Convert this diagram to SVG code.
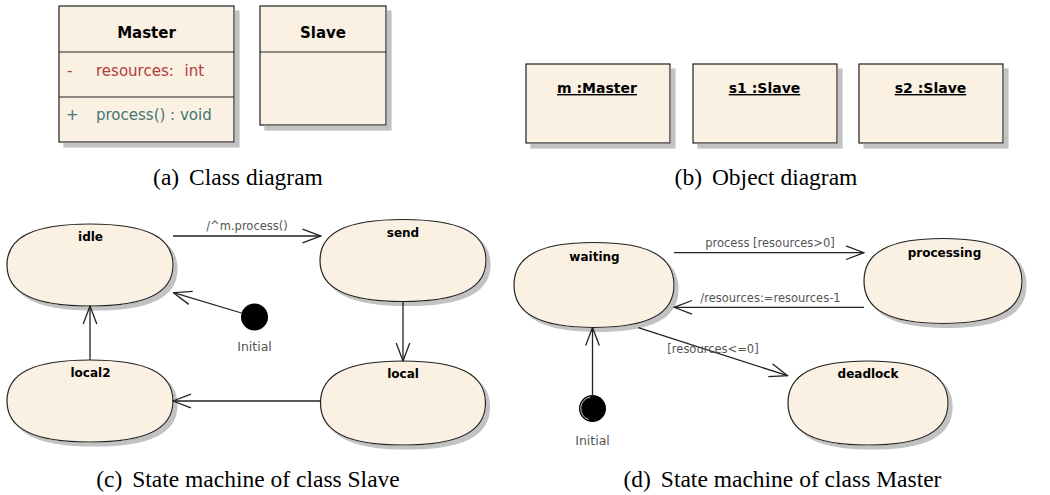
<svg xmlns="http://www.w3.org/2000/svg" width="1050" height="495" viewBox="0 0 1050 495">
<style>
.box{fill:#fbf1e3;stroke:#222;stroke-width:1.2}
.state{fill:#fbf1e3;stroke:#222;stroke-width:1.2}
.div{stroke:#222;stroke-width:1.2}
.cls{font-family:"DejaVu Sans",sans-serif;font-weight:bold;font-size:15px;text-anchor:middle;fill:#000}
.obj{font-family:"DejaVu Sans",sans-serif;font-weight:bold;font-size:14px;text-anchor:middle;fill:#000;text-decoration:underline}
.attr{font-family:"DejaVu Sans",sans-serif;font-size:15px;fill:#b03c3c}
.op{font-family:"DejaVu Sans",sans-serif;font-size:15px;fill:#437676}
.sname{font-family:"DejaVu Sans",sans-serif;font-weight:bold;font-size:12px;text-anchor:middle;fill:#000}
.lbl{font-family:"DejaVu Sans",sans-serif;font-size:11.5px;fill:#555}
.init{font-family:"DejaVu Sans",sans-serif;font-size:12.5px;text-anchor:middle;fill:#555}
.cap{font-family:"Liberation Serif","Times New Roman",serif;font-size:23.5px;text-anchor:middle;fill:#000}
.edge{fill:none;stroke:#222;stroke-width:1.3}
</style>
<defs>
<filter id="sh5" x="-10%" y="-10%" width="130%" height="130%">
<feOffset in="SourceAlpha" dx="5" dy="5" result="o"/>
<feFlood flood-color="#c2c2c2"/>
<feComposite in2="o" operator="in" result="s"/>
<feMerge><feMergeNode in="s"/><feMergeNode in="SourceGraphic"/></feMerge>
</filter>
<filter id="sh4" x="-10%" y="-10%" width="130%" height="130%">
<feOffset in="SourceAlpha" dx="4" dy="4" result="o"/>
<feFlood flood-color="#c2c2c2"/>
<feComposite in2="o" operator="in" result="s"/>
<feMerge><feMergeNode in="s"/><feMergeNode in="SourceGraphic"/></feMerge>
</filter>
<marker id="arr" viewBox="0 0 20 16" refX="19" refY="8" markerWidth="20" markerHeight="16" markerUnits="userSpaceOnUse" orient="auto">
<path d="M1,1.2 L19,8 L1,14.8" fill="none" stroke="#222" stroke-width="1.3"/>
</marker>
</defs>

<!-- (a) Class diagram -->
<g id="class-Master">
<rect class="box" x="59" y="6" width="175" height="136" filter="url(#sh5)"/>
<line class="div" x1="59" y1="52" x2="234" y2="52"/>
<line class="div" x1="59" y1="97" x2="234" y2="97"/>
<text class="cls" x="146.5" y="38">Master</text>
<text class="attr" x="67" y="76">-</text>
<text class="attr" x="96" y="76">resources:<tspan x="184.5">int</tspan></text>
<text class="op" x="66" y="120">+</text>
<text class="op" x="96" y="120">process() : void</text>
</g>
<g id="class-Slave">
<rect class="box" x="260" y="6" width="126" height="119" filter="url(#sh5)"/>
<line class="div" x1="260" y1="52" x2="386" y2="52"/>
<text class="cls" x="323" y="38">Slave</text>
</g>
<text class="cap" x="238" y="185">(a)<tspan dx="4"> Class diagram</tspan></text>

<!-- (b) Object diagram -->
<g id="obj-m">
<rect class="box" x="526" y="64" width="144" height="79" filter="url(#sh5)"/>
<text class="obj" x="597" y="93">m :Master</text>
</g>
<g id="obj-s1">
<rect class="box" x="693" y="64" width="144" height="79" filter="url(#sh5)"/>
<text class="obj" x="764.5" y="93">s1 :Slave</text>
</g>
<g id="obj-s2">
<rect class="box" x="859" y="64" width="144" height="79" filter="url(#sh5)"/>
<text class="obj" x="930.5" y="93">s2 :Slave</text>
</g>
<text class="cap" x="766" y="185">(b)<tspan dx="4"> Object diagram</tspan></text>

<!-- (c) State machine of class Slave -->
<g id="c-idle">
<path class="state" filter="url(#sh4)" d="M7,265 C7,237.1 33.6,224 90,224 C146.4,224 173,237.1 173,265 C173,292.9 146.4,306 90,306 C33.6,306 7,292.9 7,265Z"/>
<text class="sname" x="90.5" y="240.5">idle</text>
</g>
<g id="c-send">
<path class="state" filter="url(#sh4)" d="M320,260.5 C320,232.6 346.6,219.5 403,219.5 C459.4,219.5 486,232.6 486,260.5 C486,288.4 459.4,301.5 403,301.5 C346.6,301.5 320,288.4 320,260.5Z"/>
<text class="sname" x="403" y="236.5">send</text>
</g>
<g id="c-local">
<path class="state" filter="url(#sh4)" d="M320.5,403 C320.5,374.4 346.9,361 403,361 C459.1,361 485.5,374.4 485.5,403 C485.5,431.6 459.1,445 403,445 C346.9,445 320.5,431.6 320.5,403Z"/>
<text class="sname" x="403" y="378">local</text>
</g>
<g id="c-local2">
<path class="state" filter="url(#sh4)" d="M7,401 C7,373.1 33.6,360 90,360 C146.4,360 173,373.1 173,401 C173,428.9 146.4,442 90,442 C33.6,442 7,428.9 7,401Z"/>
<text class="sname" x="90.5" y="377">local2</text>
</g>
<g id="c-initial">
<circle cx="254.5" cy="317" r="13.5" fill="#000"/>
<text class="init" x="254.5" y="350.5">Initial</text>
</g>

<!-- (d) State machine of class Master -->
<g id="d-waiting">
<path class="state" filter="url(#sh4)" d="M514,285 C514,256.1 539.6,242.5 594,242.5 C648.4,242.5 674,256.1 674,285 C674,313.9 648.4,327.5 594,327.5 C539.6,327.5 514,313.9 514,285Z"/>
<text class="sname" x="594.5" y="260.5">waiting</text>
</g>
<g id="d-processing">
<path class="state" filter="url(#sh4)" d="M864,281 C864,252.1 889.3,238.5 943,238.5 C996.7,238.5 1022,252.1 1022,281 C1022,309.9 996.7,323.5 943,323.5 C889.3,323.5 864,309.9 864,281Z"/>
<text class="sname" x="944.5" y="256.5">processing</text>
</g>
<g id="d-deadlock">
<path class="state" filter="url(#sh4)" d="M788,403 C788,374.4 813.6,361 868,361 C922.4,361 948,374.4 948,403 C948,431.6 922.4,445 868,445 C813.6,445 788,431.6 788,403Z"/>
<text class="sname" x="868" y="378">deadlock</text>
</g>
<g id="d-initial">
<circle cx="592.5" cy="408.5" r="13.5" fill="#000"/>
<path d="M588.5,419.6 A11.8,11.8 0 0 1 590.4,396.9" fill="none" stroke="#fff" stroke-width="0.8"/>
<text class="init" x="592.5" y="445">Initial</text>
</g>

<!-- connectors -->
<g id="connectors">
<path class="edge" marker-end="url(#arr)" d="M173,236 L320.5,236"/>
<path class="edge" marker-end="url(#arr)" d="M241.5,313 L173.5,292.7"/>
<path class="edge" marker-end="url(#arr)" d="M403,301.5 L403,361"/>
<path class="edge" marker-end="url(#arr)" d="M320.5,401 L173,401"/>
<path class="edge" marker-end="url(#arr)" d="M90,360 L90,306"/>
<path class="edge" marker-end="url(#arr)" d="M674,252.7 L864,252.7"/>
<path class="edge" marker-end="url(#arr)" d="M864,307.3 L674,307.3"/>
<path class="edge" marker-end="url(#arr)" d="M638.3,327.7 L787.5,375.7"/>
<path class="edge" marker-end="url(#arr)" d="M592.5,395 L592.5,327.5"/>
<text class="lbl" x="247" y="230" text-anchor="middle">/^m.process()</text>
<text class="lbl" x="770" y="246.5" text-anchor="middle">process [resources&gt;0]</text>
<text class="lbl" x="770.5" y="301.5" text-anchor="middle">/resources:=resources-1</text>
<text class="lbl" x="713" y="353.3" text-anchor="middle">[resources&lt;=0]</text>
</g>

<text class="cap" x="248" y="487">(c)<tspan dx="4"> State machine of class Slave</tspan></text>
<text class="cap" x="782.5" y="487">(d)<tspan dx="4"> State machine of class Master</tspan></text>
</svg>
